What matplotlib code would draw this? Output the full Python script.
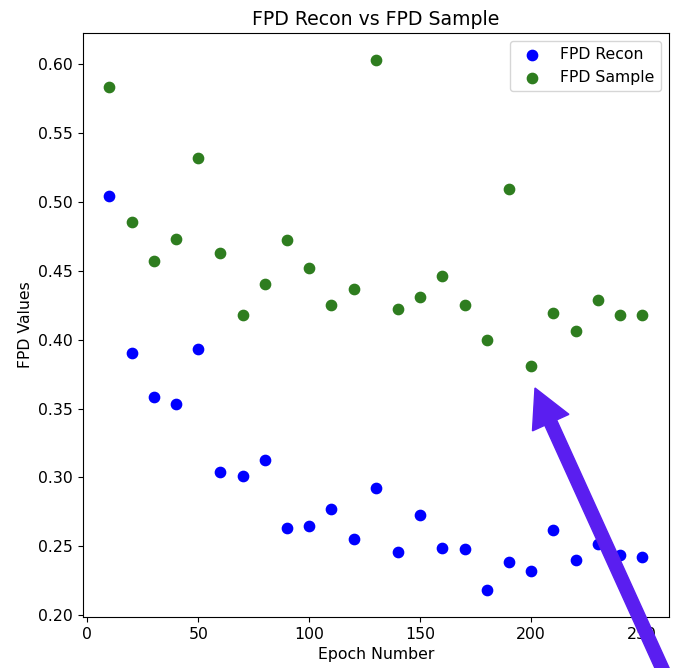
import matplotlib
matplotlib.use('Agg')
import matplotlib.pyplot as plt
from matplotlib.patches import FancyArrow
from matplotlib.transforms import IdentityTransform

epochs = [10, 20, 30, 40, 50, 60, 70, 80, 90, 100, 110, 120, 130,
          140, 150, 160, 170, 180, 190, 200, 210, 220, 230, 240, 250]
fpd_recon = [0.504, 0.390, 0.358, 0.353, 0.393, 0.304, 0.301, 0.313, 0.263,
             0.265, 0.277, 0.255, 0.292, 0.246, 0.273, 0.249, 0.248, 0.218,
             0.239, 0.232, 0.262, 0.240, 0.252, 0.244, 0.242]
fpd_sample = [0.583, 0.485, 0.457, 0.473, 0.532, 0.463, 0.418, 0.440, 0.472,
              0.452, 0.425, 0.437, 0.603, 0.422, 0.431, 0.446, 0.425, 0.400,
              0.509, 0.381, 0.419, 0.406, 0.429, 0.418, 0.418]

plt.rcParams['font.size'] = 11.3

fig = plt.figure(figsize=(6.79, 6.68), dpi=100)
ax = fig.add_axes([0.122, 0.0763, 0.863, 0.874])

ax.scatter(epochs, fpd_recon, color='#0000ff', s=55, label='FPD Recon')
ax.scatter(epochs, fpd_sample, color='#2e7d1f', s=55, label='FPD Sample')
ax.set_title('FPD Recon vs FPD Sample', fontsize=13.6)
ax.set_xlabel('Epoch Number')
ax.set_ylabel('FPD Values')
ax.legend(loc='upper right')

# big pointer onto the low sample value at epoch 200
arrow = FancyArrow(672, -22, -137, 302, width=13, head_width=40, head_length=38,
                   length_includes_head=True, color='#5a1ef0',
                   transform=IdentityTransform(), zorder=10)
fig.add_artist(arrow)

fig.savefig('out.png', dpi=100)
